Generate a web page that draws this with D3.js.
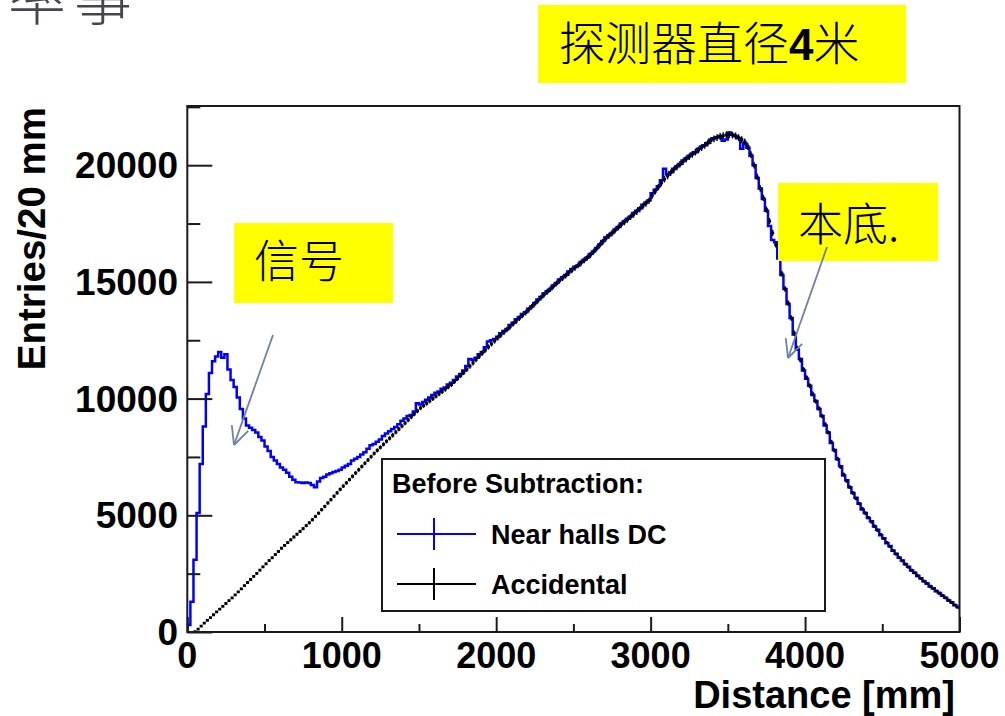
<!DOCTYPE html>
<html>
<head>
<meta charset="utf-8">
<script src="https://cdn.jsdelivr.net/npm/d3@7/dist/d3.min.js"></script>
<style>
  html, body { margin: 0; padding: 0; background: #fff; }
  svg { display: block; }
</style>
</head>
<body>
<svg id="chart" width="1005" height="716"></svg>
<script>
// ---------------- DATA ----------------
const binWidthMM = 20;
const xTicks = [0, 1000, 2000, 3000, 4000, 5000];
const yTicks = [0, 5000, 10000, 15000, 20000];
const seriesNames = ["Near halls DC", "Accidental"];
const legendTitle = "Before Subtraction:";
const xTitle = "Distance [mm]";
const yTitle = "Entries/20 mm";

// Accidental background, 20 mm bins from 0 to 5000 mm
const accidental = [
  0, 0, 20, 120, 250, 380, 500, 620, 740, 860,
  980, 1100, 1220, 1340, 1460, 1590, 1720, 1850, 1990, 2120,
  2250, 2380, 2510, 2650, 2790, 2920, 3060, 3180, 3320, 3450,
  3590, 3710, 3830, 3950, 4070, 4190, 4310, 4430, 4560, 4680,
  4810, 4950, 5090, 5240, 5380, 5530, 5670, 5820, 5960, 6110,
  6250, 6390, 6530, 6670, 6810, 6950, 7090, 7230, 7370, 7510,
  7650, 7780, 7910, 8040, 8170, 8300, 8430, 8560, 8690, 8820,
  8950, 9080, 9210, 9340, 9470, 9600, 9700, 9800, 9900, 10000,
  10100, 10200, 10300, 10400, 10500, 10600, 10730, 10860, 10990, 11120,
  11250, 11390, 11530, 11670, 11810, 11950, 12080, 12210, 12340, 12470,
  12600, 12720, 12840, 12960, 13080, 13200, 13320, 13440, 13560, 13680,
  13800, 13930, 14060, 14190, 14320, 14450, 14570, 14690, 14810, 14930,
  15050, 15160, 15270, 15380, 15490, 15600, 15710, 15820, 15930, 16040,
  16150, 16290, 16430, 16570, 16710, 16850, 16970, 17090, 17210, 17330,
  17450, 17560, 17670, 17780, 17890, 18000, 18120, 18240, 18360, 18480,
  18700, 18880, 19060, 19240, 19400, 19540, 19680, 19800, 19920, 20040,
  20150, 20260, 20360, 20460, 20560, 20650, 20750, 20850, 20950, 21050,
  21130, 21180, 21230, 21270, 21300, 21310, 21290, 21250, 21180, 21100,
  21000, 20800, 20450, 20000, 19500, 19000, 18600, 18100, 17600, 17100,
  16600, 16050, 15350, 14700, 14100, 13450, 12800, 12150, 11650, 11250,
  10900, 10550, 10200, 9880, 9580, 9250, 8900, 8550, 8150, 7780,
  7420, 7080, 6750, 6470, 6210, 5960, 5720, 5500, 5290, 5090,
  4900, 4720, 4540, 4360, 4180, 4000, 3830, 3660, 3500, 3340,
  3190, 3050, 2910, 2780, 2650, 2530, 2410, 2290, 2180, 2070,
  1960, 1860, 1760, 1660, 1560, 1460, 1360, 1260, 1160, 1060
];

// Near halls double coincidences, 20 mm bins from 0 to 5000 mm
const nearHalls = [
  300, 1300, 3100, 5100, 7200, 8800, 10200, 11100, 11600, 11800,
  12000, 11750, 11900, 11250, 10800, 10500, 10050, 9550, 9150, 8850,
  8750, 8650, 8550, 8350, 8200, 7950, 7750, 7500, 7350, 7200,
  7050, 6950, 6820, 6650, 6520, 6420, 6400, 6380, 6400, 6380,
  6300, 6200, 6450, 6600, 6650, 6750, 6800, 6850, 6900, 6950,
  7050, 7120, 7200, 7350, 7420, 7500, 7600, 7700, 7850, 8000,
  8050, 8150, 8250, 8400, 8500, 8600, 8700, 8780, 8900, 9050,
  9150, 9250, 9300, 9450, 9800, 9750, 9850, 9950, 10050, 10150,
  10250, 10300, 10420, 10480, 10600, 10680, 10800, 10950, 11050, 11200,
  11400, 11700, 11650, 11750, 11900, 12000, 12200, 12450, 12500, 12550,
  12650, 12800, 12900, 12980, 13150, 13250, 13400, 13500, 13620, 13700,
  13850, 13950, 14100, 14250, 14350, 14500, 14600, 14700, 14850, 14950,
  15100, 15200, 15300, 15450, 15550, 15650, 15700, 15850, 15950, 16050,
  16200, 16300, 16450, 16600, 16750, 16900, 17000, 17100, 17250, 17350,
  17500, 17600, 17700, 17800, 17950, 18050, 18150, 18300, 18400, 18500,
  18800, 18950, 19100, 19350, 19850, 19600, 19700, 19850, 19950, 20050,
  20200, 20300, 20400, 20500, 20550, 20700, 20800, 20850, 20950, 21100,
  21150, 21200, 21250, 21050, 21100, 21400, 21300, 21250, 21150, 20700,
  20950, 20750, 20400, 20000, 19450, 19000, 18550, 18050, 17400, 16800,
  16700, 16000, 15300, 14700, 14050, 13450, 12750, 12100, 11700, 11200,
  10850, 10550, 10150, 9900, 9550, 9250, 8850, 8550, 8100, 7800,
  7400, 7100, 6700, 6500, 6200, 5950, 5750, 5500, 5250, 5100,
  4880, 4750, 4520, 4380, 4150, 4020, 3800, 3680, 3480, 3350,
  3180, 3060, 2900, 2800, 2630, 2540, 2400, 2300, 2170, 2080,
  1950, 1870, 1750, 1670, 1550, 1470, 1350, 1270, 1150, 1070
];

// Annotations (text content)
const notes = {
  title: "探测器直径",
  titleNum: "4",
  titleTail: "米",
  signal: "信号",
  background: "本底.",
  corner: "率事"
};

// ---------------- LAYOUT ----------------
const svg = d3.select("#chart");
const X0 = 187.3, X1 = 959.5, YB = 632, YT = 106;
const x = d3.scaleLinear().domain([0, 5000]).range([X0, X1]);
const y = d3.scaleLinear().domain([0, 22536]).range([YB, YT]);

const latin = "'Liberation Sans', Arial, Helvetica, sans-serif";
const cjk = "'Noto Sans CJK SC', 'Noto Sans CJK JP', sans-serif";

// corner partial text (slide title cut off at the top edge, as in the source slide)
svg.append("text")
  .attr("x", 8).attr("y", 20)
  .attr("font-family", cjk).attr("font-size", 58).attr("font-weight", 300)
  .attr("fill", "#45454f")
  .attr("letter-spacing", 8)
  .text(notes.corner);

// clip for plot area
svg.append("clipPath").attr("id", "plotclip")
  .append("rect").attr("x", X0).attr("y", YT).attr("width", X1 - X0).attr("height", YB - YT);

const plot = svg.append("g").attr("clip-path", "url(#plotclip)");

// Blue histogram outline (step)
const bluePts = [[0, 0]];
nearHalls.forEach((v, i) => { bluePts.push([i * binWidthMM, v]); });
bluePts.push([nearHalls.length * binWidthMM, nearHalls[nearHalls.length - 1]]);
const stepLine = d3.line().x(d => x(d[0])).y(d => y(d[1])).curve(d3.curveStepAfter);
plot.append("path")
  .attr("d", stepLine(bluePts))
  .attr("fill", "none")
  .attr("stroke", "#0000ff")
  .attr("stroke-width", 2.5);

// Black accidental: horizontal bin bars + error bars
const accG = plot.append("g").attr("stroke", "#000");
accidental.forEach((v, i) => {
  if (v <= 0) return;
  const xa = x(i * binWidthMM), xb = x((i + 1) * binWidthMM);
  const xc = (xa + xb) / 2;
  const err = Math.sqrt(v);
  accG.append("line").attr("x1", xa).attr("x2", xb).attr("y1", y(v)).attr("y2", y(v))
    .attr("stroke-width", 2.8);
  accG.append("line").attr("x1", xc).attr("x2", xc).attr("y1", y(v - err)).attr("y2", y(v + err))
    .attr("stroke-width", 1.4);
});

// Frame
svg.append("rect")
  .attr("x", X0).attr("y", YT).attr("width", X1 - X0).attr("height", YB - YT)
  .attr("fill", "none").attr("stroke", "#1a1a1a").attr("stroke-width", 2);

// Axes with ticks drawn inward
const yAxis = d3.axisLeft(y).tickValues(yTicks).tickSize(-25).tickFormat("");
const yMinor = d3.axisLeft(y).tickValues(d3.range(2500, 22536, 5000)).tickSize(-13).tickFormat("");
const xAxis = d3.axisBottom(x).tickValues(xTicks).tickSize(-15).tickFormat("");
const xMinor = d3.axisBottom(x).tickValues(d3.range(500, 5000, 1000)).tickSize(-8).tickFormat("");

function styleAxis(g) {
  g.select(".domain").remove();
  g.selectAll(".tick line").attr("stroke", "#1a1a1a").attr("stroke-width", 2);
}
svg.append("g").attr("transform", `translate(${X0},0)`).call(yAxis).call(styleAxis);
svg.append("g").attr("transform", `translate(${X0},0)`).call(yMinor).call(styleAxis);
svg.append("g").attr("transform", `translate(0,${YB})`).call(xAxis).call(styleAxis);
svg.append("g").attr("transform", `translate(0,${YB})`).call(xMinor).call(styleAxis);

// Tick labels
svg.append("g").selectAll("text").data(yTicks).join("text")
  .attr("x", 178).attr("y", d => y(d) + 13)
  .attr("text-anchor", "end")
  .attr("font-family", latin).attr("font-weight", "bold").attr("font-size", 37)
  .attr("fill", "#000")
  .text(d => String(d));
svg.append("g").selectAll("text").data(xTicks).join("text")
  .attr("x", d => x(d)).attr("y", 668)
  .attr("text-anchor", "middle")
  .attr("font-family", latin).attr("font-weight", "bold").attr("font-size", 36)
  .attr("fill", "#000")
  .text(d => String(d));

// Axis titles
svg.append("text")
  .attr("x", 955).attr("y", 708)
  .attr("text-anchor", "end")
  .attr("font-family", latin).attr("font-weight", "bold").attr("font-size", 38)
  .attr("fill", "#000")
  .text(xTitle);
svg.append("text")
  .attr("transform", "translate(45,107) rotate(-90)")
  .attr("text-anchor", "end")
  .attr("font-family", latin).attr("font-weight", "bold").attr("font-size", 38.5)
  .attr("fill", "#000")
  .text(yTitle);

// Legend
const lg = svg.append("g");
lg.append("rect").attr("x", 382).attr("y", 459).attr("width", 443).attr("height", 152)
  .attr("fill", "#fff").attr("stroke", "#1a1a1a").attr("stroke-width", 2);
lg.append("text").attr("x", 392).attr("y", 493)
  .attr("font-family", latin).attr("font-weight", "bold").attr("font-size", 27)
  .text(legendTitle);
const legendRows = [
  { name: seriesNames[0], color: "#0000ff", yc: 534 },
  { name: seriesNames[1], color: "#000000", yc: 584 }
];
legendRows.forEach(r => {
  lg.append("line").attr("x1", 397).attr("x2", 476).attr("y1", r.yc).attr("y2", r.yc)
    .attr("stroke", r.color).attr("stroke-width", 2);
  lg.append("line").attr("x1", 434).attr("x2", 434).attr("y1", r.yc - 16).attr("y2", r.yc + 16)
    .attr("stroke", r.color).attr("stroke-width", 2);
  lg.append("text").attr("x", 491).attr("y", r.yc + 10)
    .attr("font-family", latin).attr("font-weight", "bold").attr("font-size", 27)
    .text(r.name);
});

// Yellow annotation boxes
function box(x0, y0, w, h) {
  svg.append("rect").attr("x", x0).attr("y", y0).attr("width", w).attr("height", h).attr("fill", "#ffff00");
}
box(538, 5, 368, 78);
const t1 = svg.append("text").attr("x", 559).attr("y", 60)
  .attr("font-family", cjk).attr("font-size", 46).attr("font-weight", 300).attr("fill", "#000");
t1.append("tspan").text(notes.title);
t1.append("tspan").attr("font-family", latin).attr("font-weight", "bold").attr("font-size", 44).text(notes.titleNum);
t1.append("tspan").text(notes.titleTail);

box(234, 223, 159, 80);
svg.append("text").attr("x", 254).attr("y", 278)
  .attr("font-family", cjk).attr("font-size", 45).attr("font-weight", 300).attr("fill", "#000")
  .text(notes.signal);

box(778, 183, 160, 78);
svg.append("text").attr("x", 798).attr("y", 241)
  .attr("font-family", cjk).attr("font-size", 45).attr("font-weight", 300).attr("fill", "#000")
  .text(notes.background);

// Arrows
function arrow(x1, y1, x2, y2) {
  const g = svg.append("g").attr("stroke", "#6f7fa6").attr("stroke-width", 1.8).attr("fill", "none");
  g.append("line").attr("x1", x1).attr("y1", y1).attr("x2", x2).attr("y2", y2);
  const ang = Math.atan2(y1 - y2, x1 - x2);
  const L = 20, a = 0.45;
  [ang - a, ang + a].forEach(t => {
    g.append("line").attr("x1", x2).attr("y1", y2)
      .attr("x2", x2 + L * Math.cos(t)).attr("y2", y2 + L * Math.sin(t));
  });
}
arrow(273, 335, 234, 445);
arrow(827, 247, 788, 358);
</script>
</body>
</html>
